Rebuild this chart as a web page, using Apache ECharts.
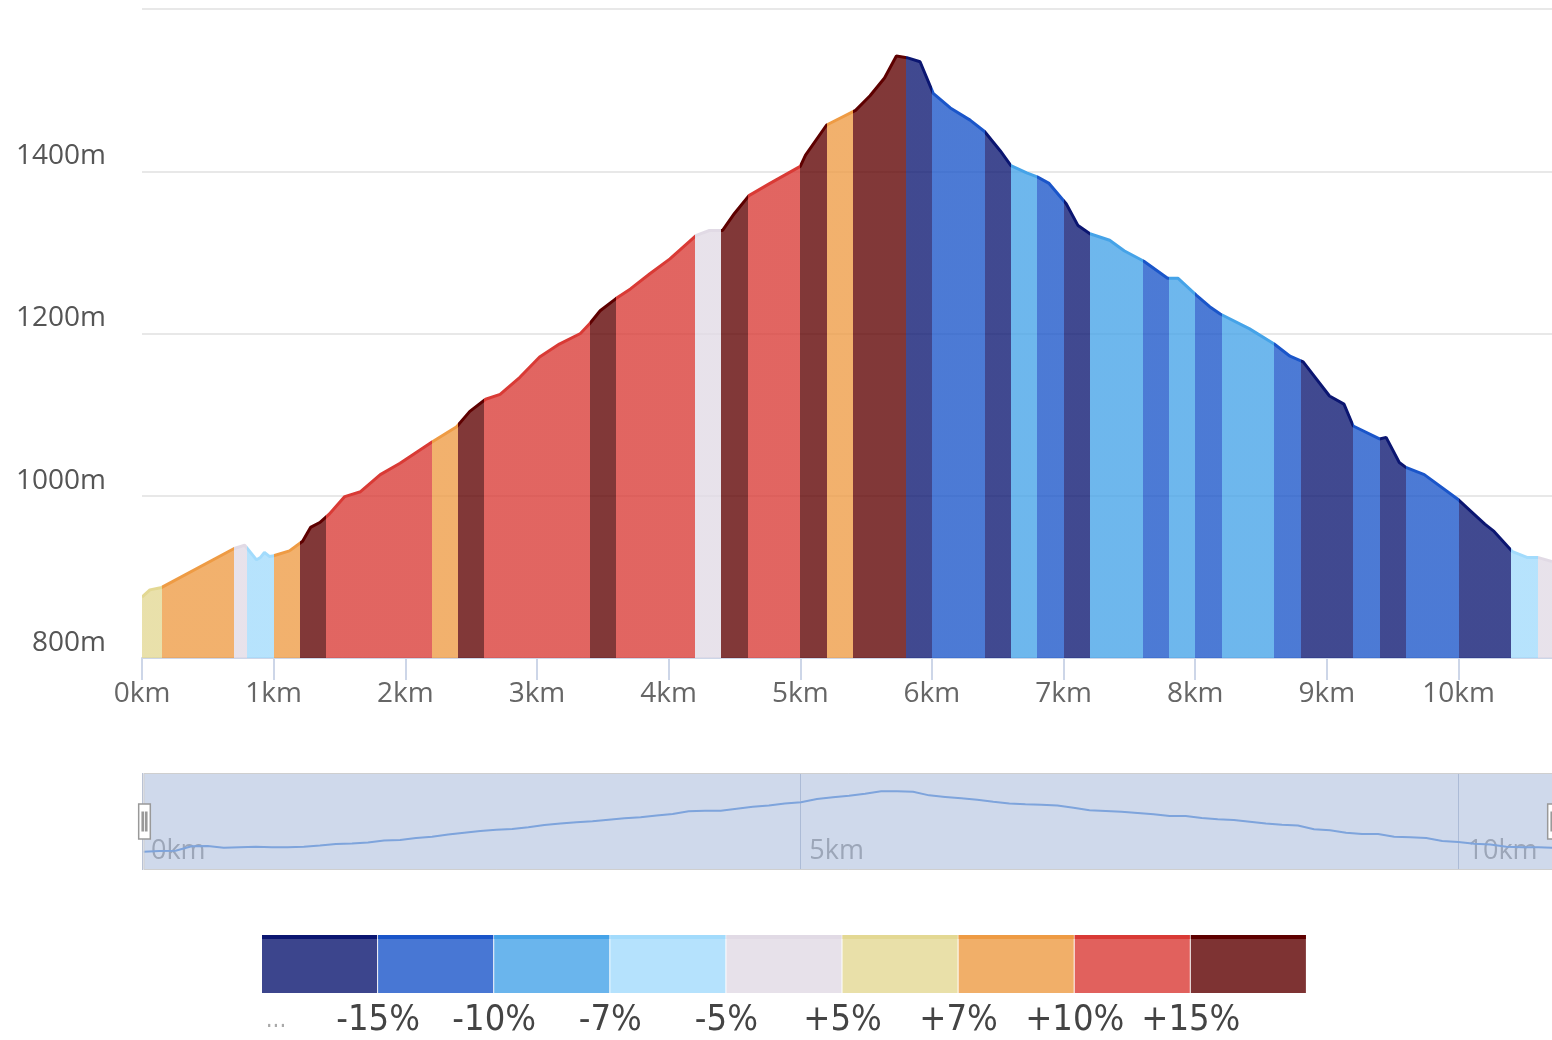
<!DOCTYPE html>
<html>
<head>
<meta charset="utf-8">
<script src="https://cdn.jsdelivr.net/npm/echarts@6/dist/echarts.min.js"></script>
<style>
  html, body { margin: 0; padding: 0; background: #fff; overflow: hidden; }
  #profile { width: 1552px; height: 1040px; }
</style>
</head>
<body>
<div id="profile"></div>
<script>
// elevation profile: [distance km, altitude m]
const distances = [0, 0.06, 0.15, 0.7, 0.78, 0.87, 0.9, 0.93, 0.97, 1.0, 1.12, 1.22, 1.28, 1.35, 1.42,
  1.54, 1.66, 1.81, 1.96, 2.2, 2.39, 2.49, 2.61, 2.72, 2.87, 3.02, 3.17, 3.33, 3.4, 3.48, 3.6, 3.71,
  3.86, 4.01, 4.21, 4.31, 4.41, 4.5, 4.61, 4.77, 5.0, 5.04, 5.2, 5.42, 5.53, 5.64, 5.73, 5.81, 5.91,
  6.01, 6.14, 6.29, 6.4, 6.52, 6.6, 6.72, 6.8, 6.89, 7.02, 7.11, 7.2, 7.35, 7.46, 7.61, 7.79, 7.87,
  8.01, 8.11, 8.19, 8.41, 8.6, 8.72, 8.82, 9.02, 9.13, 9.2, 9.4, 9.45, 9.55, 9.6, 9.74, 10.0, 10.08,
  10.2, 10.27, 10.41, 10.52, 10.6, 10.71];
const altitudes = [875, 884, 887, 935, 939, 921, 924, 930, 925, 926, 932, 944, 961, 967, 977,
  999, 1005, 1026, 1040, 1066, 1085, 1104, 1119, 1125, 1146, 1171, 1187, 1200, 1212, 1228, 1243, 1255,
  1274, 1292, 1321, 1327, 1327, 1348, 1370, 1385, 1406, 1420, 1457, 1475, 1493, 1515, 1542, 1540, 1535,
  1496, 1478, 1463, 1449, 1425, 1407, 1398, 1393, 1385, 1360, 1333, 1323, 1315, 1302, 1289, 1268, 1268,
  1247, 1233, 1224, 1206, 1187, 1172, 1165, 1123, 1113, 1086, 1070, 1072, 1041, 1035, 1026, 995, 983,
  965, 956, 931, 924, 924, 919];

// slope sections: start km and slope class (index in slopeColors)
const sectionStarts = [0, 0.15, 0.7, 0.8, 1.0, 1.2, 1.4, 2.2, 2.4, 2.6, 3.4, 3.6, 4.2, 4.4, 4.6, 5.0,
  5.2, 5.4, 5.8, 6.0, 6.4, 6.6, 6.8, 7.0, 7.2, 7.6, 7.8, 8.0, 8.2, 8.6, 8.8, 9.2, 9.4, 9.6, 10.0, 10.4, 10.6];
const sectionClass = [5, 6, 4, 3, 6, 8, 7, 6, 8, 7, 8, 7, 4, 8, 7, 8,
  6, 8, 0, 1, 0, 2, 1, 0, 2, 1, 2, 1, 2, 1, 0, 1, 0, 1, 0, 3, 4];
const routeEnd = 10.71;

// legend classes
const slopeColors = ['#0b1671', '#1a55c9', '#45a3e8', '#a2dbfc', '#e1dae5', '#e3d893', '#ee9b44', '#d93a35', '#5e0000'];
const slopeLabels = ['...', '-15%', '-10%', '-7%', '-5%', '+5%', '+7%', '+10%', '+15%'];

const chart = echarts.init(document.getElementById('profile'));

// visualMap pieces along distance
const pieces = sectionStarts.map((s, i) => ({
  gte: s,
  lt: i < sectionStarts.length - 1 ? sectionStarts[i + 1] : routeEnd + 1,
  color: slopeColors[sectionClass[i]],
}));

// legend boxes drawn as graphics
const boxLeft = 262;
const boxW = 116.1;
const boxTop = 935;
const boxH = 58;
const legendGraphics = [];
slopeColors.forEach((c, i) => {
  legendGraphics.push({
    type: 'rect',
    shape: { x: boxLeft + i * boxW, y: boxTop, width: boxW - 1, height: boxH },
    style: { fill: c, opacity: 0.8 },
  });
  legendGraphics.push({
    type: 'rect',
    shape: { x: boxLeft + i * boxW, y: boxTop, width: boxW - 1, height: 4 },
    style: { fill: c },
  });
  legendGraphics.push({
    type: 'text',
    x: i === 0 ? 276 : boxLeft + i * boxW,
    y: 1021,
    style: {
      text: slopeLabels[i],
      fill: i === 0 ? '#aaa' : '#444',
      font: i === 0 ? '24px "Liberation Sans Narrow", "DejaVu Sans Condensed", sans-serif'
                    : '36px "Liberation Sans Narrow", "DejaVu Sans Condensed", sans-serif',
      align: 'center',
      verticalAlign: 'middle',
    },
  });
});

const labelFont = '"Open Sans", Lato, sans-serif';

chart.setOption({
  animation: false,
  grid: [
    { left: 142, right: 0, top: 9, bottom: 382, outerBoundsMode: 'none' },
    { left: 142, right: 0, top: 773, height: 97, outerBoundsMode: 'none' },
  ],
  xAxis: [
    {
      type: 'value',
      min: 0,
      max: routeEnd,
      interval: 1,
      axisLine: { lineStyle: { color: '#cdd6e8', width: 2 } },
      axisTick: { length: 22, lineStyle: { color: '#cdd6e8', width: 2 } },
      splitLine: { show: false },
      axisLabel: {
        formatter: (v) => v + 'km',
        color: '#666',
        fontSize: 28,
        fontFamily: labelFont,
        margin: 22,
        showMaxLabel: false,
      },
    },
    {
      type: 'value',
      gridIndex: 1,
      min: 0,
      max: routeEnd,
      interval: 5,
      axisLine: { show: false },
      axisTick: { show: false },
      splitLine: { show: true, showMaxLine: false, lineStyle: { color: '#b9c2d4', width: 1 } },
      axisLabel: {
        inside: true,
        formatter: (v) => v + 'km',
        color: '#999',
        fontSize: 27,
        fontFamily: labelFont,
        align: 'left',
        padding: [0, 0, 0, 9],
        margin: 5,
        showMaxLabel: false,
      },
    },
  ],
  yAxis: [
    {
      type: 'value',
      min: 800,
      max: 1600,
      interval: 200,
      axisLine: { show: false },
      axisTick: { show: false },
      splitLine: { lineStyle: { color: '#e8e8e8', width: 2 } },
      axisLabel: {
        formatter: (v) => v + 'm',
        color: '#555',
        fontSize: 28,
        fontFamily: labelFont,
        margin: 36,
        verticalAlign: 'bottom',
        lineHeight: 30,
        showMaxLabel: false,
      },
    },
    { type: 'value', gridIndex: 1, show: false, min: 0, max: 1 },
  ],
  visualMap: {
    type: 'piecewise',
    show: false,
    dimension: 0,
    seriesIndex: 0,
    pieces: pieces,
  },
  dataZoom: [
    {
      type: 'slider',
      xAxisIndex: 0,
      start: 0,
      end: 100,
      left: 141,
      right: 0,
      top: 773,
      height: 97,
      showDetail: false,
      brushSelect: false,
      moveHandleSize: 0,
      borderColor: '#cfcfcf',
      backgroundColor: 'rgba(0,0,0,0)',
      fillerColor: 'rgba(160,180,215,0.5)',
      handleIcon: 'path://M0,0H10V30H0Z M3,7V23H4V7Z M6,7V23H7V7Z',
      handleSize: '36%',
      handleStyle: { color: '#fff', borderColor: '#999', borderWidth: 1.5 },
      dataBackground: {
        lineStyle: { color: '#5c94e0', width: 2, opacity: 1 },
        areaStyle: { opacity: 0 },
      },
      selectedDataBackground: {
        lineStyle: { color: '#5c94e0', width: 2, opacity: 1 },
        areaStyle: { opacity: 0 },
      },
    },
  ],
  series: [
    {
      type: 'line',
      data: distances.map((d, i) => [d, altitudes[i]]),
      symbol: 'none',
      lineStyle: { width: 3 },
      areaStyle: { opacity: 0.78 },
    },
  ],
  graphic: legendGraphics,
});
</script>
</body>
</html>
